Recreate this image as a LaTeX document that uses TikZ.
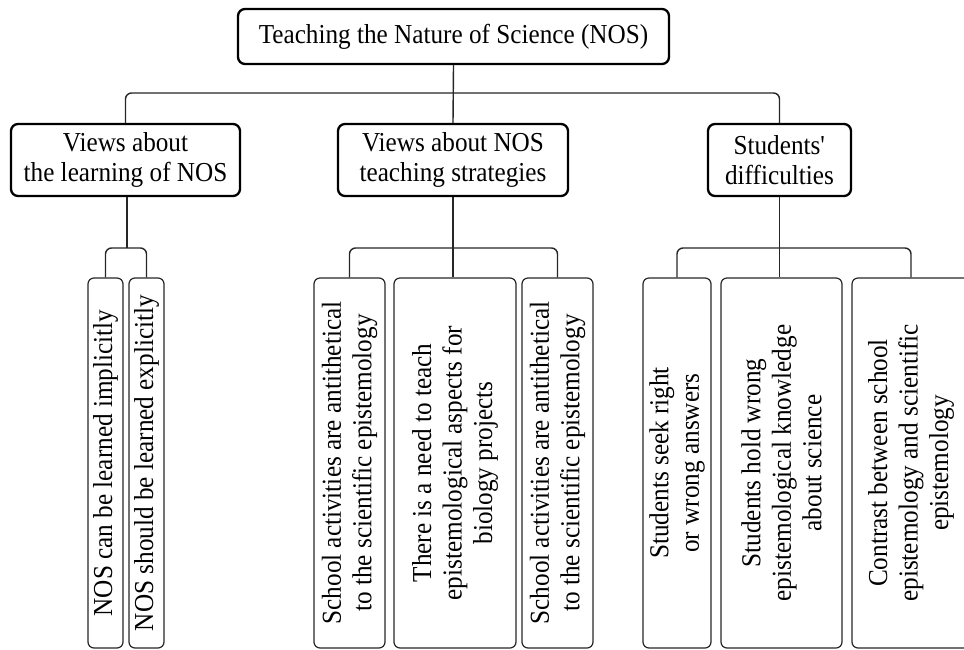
\documentclass[tikz,border=0pt]{standalone}
\usepackage{fontspec}
\setmainfont{Liberation Serif}[FakeStretch=0.92]

\begin{document}
\begin{tikzpicture}[x=1pt,y=-1pt,
    font=\fontsize{27.4}{30.5}\selectfont,
    topbox/.style={draw, line width=2.3pt, rounded corners=7pt, align=center,
      inner sep=0pt, minimum height=72pt},
    leafbox/.style={draw=black!85, line width=1.2pt, rounded corners=6pt,
      rotate=90, align=center, inner sep=0pt, minimum width=370pt},
    link/.style={draw=black!85, line width=1.4pt, rounded corners=6pt}]
        \useasboundingbox (0,0) rectangle (964,649);
        \clip (0,0) rectangle (964,649);
        %% \draw[step=50,gray,very thin] (0,0) grid (964,649);
        \node[topbox, minimum width=431pt, minimum height=55pt] (root) at (453.5,36.5)
          {Teaching the Nature of Science (NOS)};
        \node[topbox, minimum width=229pt] (learn) at (125.5,160) {Views about\\the learning of NOS};
        \node[topbox, minimum width=230pt] (strat) at (453  ,160) {Views about NOS\\teaching strategies};
        \node[topbox, minimum width=143pt] (diff)  at (779.5,160) {Students\textquotesingle\\difficulties};

        \node[leafbox, minimum height=35pt]  (impl)     at (105.5,463) {NOS can be learned implicitly};
        \node[leafbox, minimum height=35pt]  (expl)     at (146.5,463) {NOS should be learned explicitly};
        \node[leafbox, minimum height=71pt]  (anti1)    at (349.5,463) {School activities are antithetical\\to the scientific epistemology};
        \node[leafbox, minimum height=122pt] (need)     at (455  ,463) {There is a need to teach\\epistemological aspects for\\biology projects};
        \node[leafbox, minimum height=71pt]  (anti2)    at (557.5,463) {School activities are antithetical\\to the scientific epistemology};
        \node[leafbox, minimum height=68pt]  (seek)     at (677  ,463) {Students seek right\\or wrong answers};
        \node[leafbox, minimum height=121pt] (hold)     at (781.5,463) {Students hold wrong\\epistemological knowledge\\about science};
        \node[leafbox, minimum height=118pt] (contrast) at (911  ,463) {Contrast between school\\epistemology and scientific\\epistemology};

        \coordinate (bus)  at (453,93);
        \coordinate (lbus) at (127,248);
        \coordinate (mbus) at (453,248);
        \coordinate (rbus) at (780,248);

        \draw[link] (root.south) -- (strat.north);
        \draw[link] (learn.north) |- (bus) -| (diff.north);

        \draw[link] (learn.south -| lbus) -- (lbus);
        \draw[link] (impl.east) |- (lbus) -| (expl.east);

        \draw[link] (strat.south) -- (strat.south |- need.east);
        \draw[link] (anti1.east) |- (mbus) -| (anti2.east);

        \draw[link] (diff.south) -- (diff.south |- hold.east);
        \draw[link] (seek.east) |- (rbus) -| (contrast.east);
      \end{tikzpicture}
\end{document}
